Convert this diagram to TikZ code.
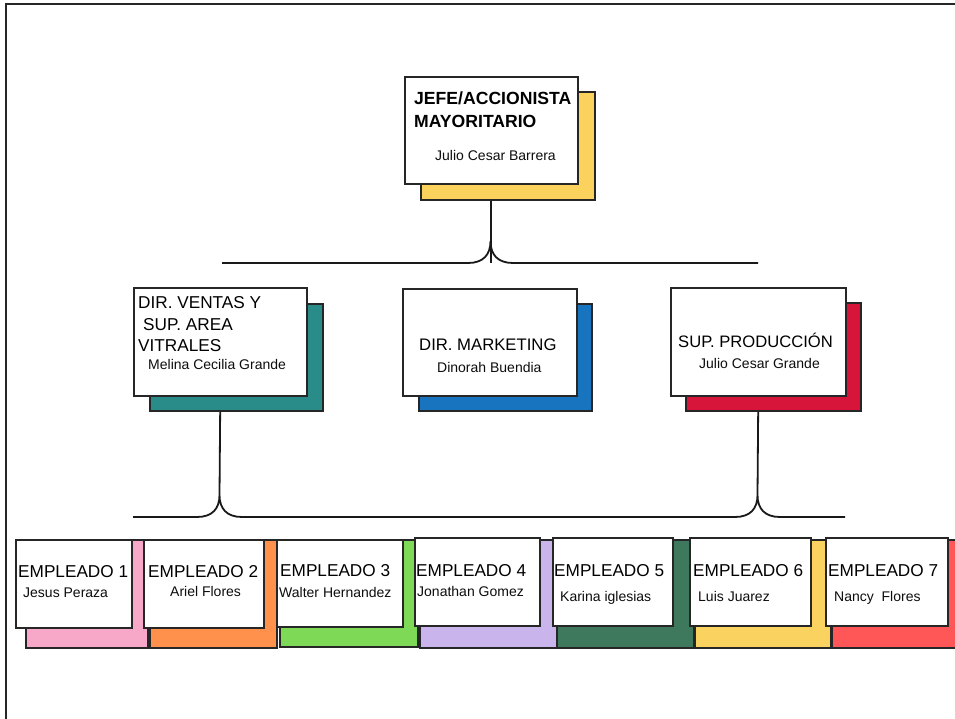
\documentclass[tikz,border=0pt]{standalone}
\usepackage{fontspec}
\setmainfont{Liberation Sans}
\usetikzlibrary{backgrounds}
\definecolor{jefeyellow}{RGB}{250,210,92}
\definecolor{ventasteal}{RGB}{42,140,136}
\definecolor{mktblue}{RGB}{24,116,190}
\definecolor{prodred}{RGB}{215,20,58}
\definecolor{emppink}{RGB}{247,168,200}
\definecolor{emporange}{RGB}{255,145,77}
\definecolor{empgreen}{RGB}{126,217,87}
\definecolor{emppurple}{RGB}{201,180,236}
\definecolor{empforest}{RGB}{62,120,93}
\definecolor{empyellow}{RGB}{250,210,95}
\definecolor{empred}{RGB}{255,87,87}

\begin{document}
\begin{tikzpicture}[x=1pt, y=-1pt,
    card/.style={rectangle, draw=black!85, line width=1.6pt, fill=white, anchor=north west, inner sep=0pt},
    backcard/.style={rectangle, draw=black!85, line width=1.6pt, anchor=north west, inner sep=0pt},
    title/.style={anchor=base west, inner sep=0pt, font=\bfseries\fontsize{17.6}{20}\selectfont},
    head/.style={anchor=base west, inner sep=0pt, font=\fontsize{17.2}{20}\selectfont},
    who/.style={anchor=base west, inner sep=0pt, font=\fontsize{14}{16}\selectfont, text=black!95},
    link/.style={draw=black!90, line width=1.8pt},
]
\useasboundingbox (0,0) rectangle (955,719);

% Jefe
\node[backcard, fill=jefeyellow, minimum width=174pt, minimum height=108pt] (jefesh) at (420,91) {};
\node[card, minimum width=173pt, minimum height=107pt] (jefe) at (404,76) {};
\node[title] (jefet1) at (414,105) {JEFE/ACCIONISTA};
\node[title] (jefet2) at (414,128) {MAYORITARIO};
\node[who] (jefen) at (435,161) {Julio Cesar Barrera};

% Directores
\node[backcard, fill=ventasteal, minimum width=173pt, minimum height=107pt] (ventassh) at (149,303) {};
\node[card, minimum width=173pt, minimum height=108pt] (ventas) at (133,287) {};
\node[head] (ventast1) at (138,308) {DIR. VENTAS Y};
\node[head] (ventast2) at (143,330) {SUP. AREA};
\node[head] (ventast3) at (138,351) {VITRALES};
\node[who] (ventasn) at (148,369) {Melina Cecilia Grande};

\node[backcard, fill=mktblue, minimum width=173pt, minimum height=107pt] (mktsh) at (418,303) {};
\node[card, minimum width=174pt, minimum height=107pt] (mkt) at (402,288) {};
\node[head, font=\fontsize{16.7}{20}\selectfont] (mktt) at (419,350) {DIR. MARKETING};
\node[who] (mktn) at (437,372) {Dinorah Buendia};

\node[backcard, fill=prodred, minimum width=175pt, minimum height=108pt] (prodsh) at (685,302) {};
\node[card, minimum width=175pt, minimum height=108pt] (prod) at (670,287) {};
\node[head, font=\fontsize{16.6}{20}\selectfont] (prodt) at (678,347) {SUP. PRODUCCIÓN};
\node[who] (prodn) at (699,368) {Julio Cesar Grande};

% Empleados
\node[backcard, fill=emppink, minimum width=122pt, minimum height=108pt] (emp1sh) at (25,539) {};
\node[backcard, fill=emporange, minimum width=127pt, minimum height=108pt] (emp2sh) at (149,539) {};
\node[backcard, fill=empgreen, minimum width=138pt, minimum height=107pt] (emp3sh) at (279,539) {};
\node[backcard, fill=emppurple, minimum width=138pt, minimum height=108pt] (emp4sh) at (419,539) {};
\node[backcard, fill=empforest, minimum width=137pt, minimum height=108pt] (emp5sh) at (556,539) {};
\node[backcard, fill=empyellow, minimum width=136pt, minimum height=108pt] (emp6sh) at (694,539) {};
\node[backcard, fill=empred, minimum width=132pt, minimum height=108pt] (emp7sh) at (831,539) {};

\node[card, minimum width=116pt, minimum height=88pt] (emp1) at (15,539) {};
\node[card, minimum width=120pt, minimum height=88pt] (emp2) at (143,539) {};
\node[card, minimum width=126pt, minimum height=87pt] (emp3) at (276,539) {};
\node[card, minimum width=125pt, minimum height=88pt] (emp4) at (414,537) {};
\node[card, minimum width=120pt, minimum height=88pt] (emp5) at (552,537) {};
\node[card, minimum width=121pt, minimum height=88pt] (emp6) at (689,537) {};
\node[card, minimum width=122pt, minimum height=88pt] (emp7) at (825,537) {};

\node[head] (emp1t) at (18,577) {EMPLEADO 1};
\node[who] (emp1n) at (23,597) {Jesus Peraza};
\node[head] (emp2t) at (148,577) {EMPLEADO 2};
\node[who] (emp2n) at (170,596) {Ariel Flores};
\node[head] (emp3t) at (280,576) {EMPLEADO 3};
\node[who] (emp3n) at (279,597) {Walter Hernandez};
\node[head] (emp4t) at (416,576) {EMPLEADO 4};
\node[who] (emp4n) at (417,596) {Jonathan Gomez};
\node[head] (emp5t) at (554,576) {EMPLEADO 5};
\node[who] (emp5n) at (560,601) {Karina iglesias};
\node[head] (emp6t) at (693,576) {EMPLEADO 6};
\node[who] (emp6n) at (698,601) {Luis Juarez};
\node[head] (emp7t) at (828,576) {EMPLEADO 7};
\node[who] (emp7n) at (834,601) {Nancy~~Flores};

% Conectores
\coordinate (toprow) at (0,263);
\coordinate (lowrow) at (0,517);
\coordinate (barleft) at (222,263);
\coordinate (barright) at (758,263);
\coordinate (lowleft) at (133,517);
\coordinate (lowright) at (845,517);
\begin{scope}[on background layer]
\draw[line width=2pt, black!85] (5.5,719) -- (5.5,4.5) -- (955,4.5);
\draw[link] (jefe.south) -- (jefe.south |- toprow);
\draw[link] (barleft) -- (468,263) .. controls (483,263) and (490.5,255) .. (490.5,241)
    .. controls (490.5,255) and (498,263) .. (513,263) -- (barright);
\draw[link] (ventas.south) -- (219.5,495);
\draw[link] (prod.south) -- (757.5,495);
\draw[link] (lowleft) -- (197,517) .. controls (212,517) and (219.5,509) .. (219.5,495)
    .. controls (219.5,509) and (227,517) .. (242,517) -- (735,517)
    .. controls (750,517) and (757.5,509) .. (757.5,495)
    .. controls (757.5,509) and (765,517) .. (780,517) -- (lowright);
\end{scope}

\end{tikzpicture}
\end{document}
